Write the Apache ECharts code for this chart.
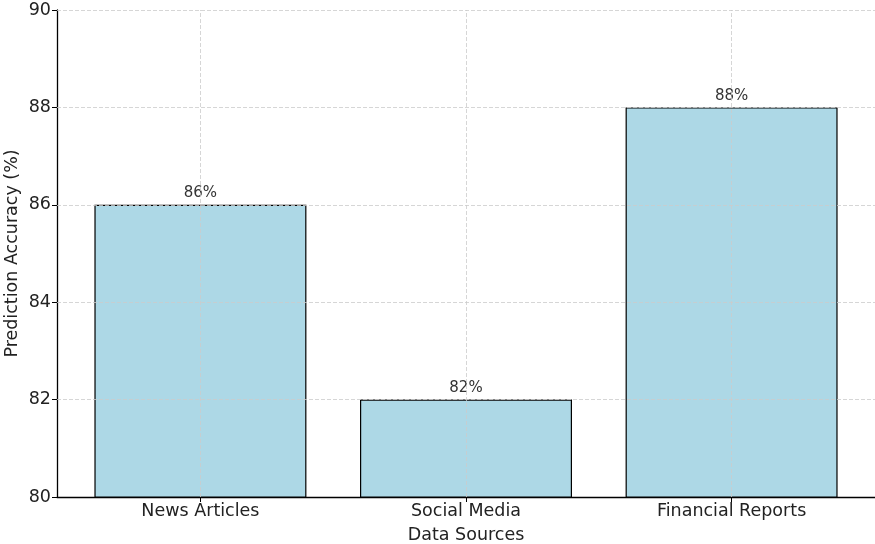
<!DOCTYPE html>
<html><head><meta charset="utf-8">
<script src="https://cdn.jsdelivr.net/npm/echarts@6/dist/echarts.min.js"></script>
<style>html,body{margin:0;padding:0;background:#fff}#c{width:875px;height:544px}</style>
</head><body><div id="c"></div>
<script>
const categories = ["News Articles", "Social Media", "Financial Reports"];
const accuracy = [86, 82, 88];
const yTicks = [80, 82, 84, 86, 88, 90];

const idx = categories.map((_, i) => i);
const chart = echarts.init(document.getElementById('c'), null, {renderer: 'canvas'});
const font = 'DejaVu Sans';
const gridLineStyle = {color: '#cccccc', type: [4, 2], width: 0.8};
chart.setOption({
  animation: false,
  grid: {left: 57, top: 10, right: 0, bottom: 47, containLabel: false, outerBoundsMode: 'none'},
  xAxis: {
    type: 'value', min: -0.54, max: 2.54,
    name: 'Data Sources', nameLocation: 'middle', nameGap: 29, nameMoveOverlap: false,
    nameTextStyle: {fontFamily: font, fontSize: 17.5, color: '#222'},
    axisLine: {show: true, onZero: false, lineStyle: {color: '#000', width: 1.3}},
    axisTick: {show: true, customValues: idx, length: 5, lineStyle: {color: '#000', width: 1}},
    axisLabel: {customValues: idx, formatter: v => categories[Math.round(v)] || '', fontFamily: font, fontSize: 17.5, color: '#222', margin: 5},
    splitLine: {show: false}
  },
  yAxis: {
    type: 'value', min: 80, max: 90, interval: 2,
    name: 'Prediction Accuracy (%)', nameLocation: 'middle', nameGap: 36, nameMoveOverlap: false,
    nameTextStyle: {fontFamily: font, fontSize: 17.5, color: '#222'},
    axisLine: {show: true, onZero: false, lineStyle: {color: '#000', width: 1.3}},
    axisTick: {show: true, length: 5, lineStyle: {color: '#000', width: 1}},
    axisLabel: {fontFamily: font, fontSize: 17.5, color: '#222', margin: 6},
    splitLine: {show: false}
  },
  series: [{
    type: 'bar',
    data: accuracy.map((v, i) => [i, v]),
    barWidth: 212,
    itemStyle: {color: '#ADD8E6', borderColor: '#000', borderWidth: 1.2},
    label: {show: true, position: 'top', distance: 4, formatter: p => p.value[1] + '%', fontFamily: font, fontSize: 15, color: '#333'},
    markLine: {
      silent: true, symbol: 'none', label: {show: false},
      lineStyle: gridLineStyle,
      data: yTicks.slice(1).map(y => ({yAxis: y})).concat(idx.map(x => ({xAxis: x})))
    }
  }]
});
</script></body></html>
